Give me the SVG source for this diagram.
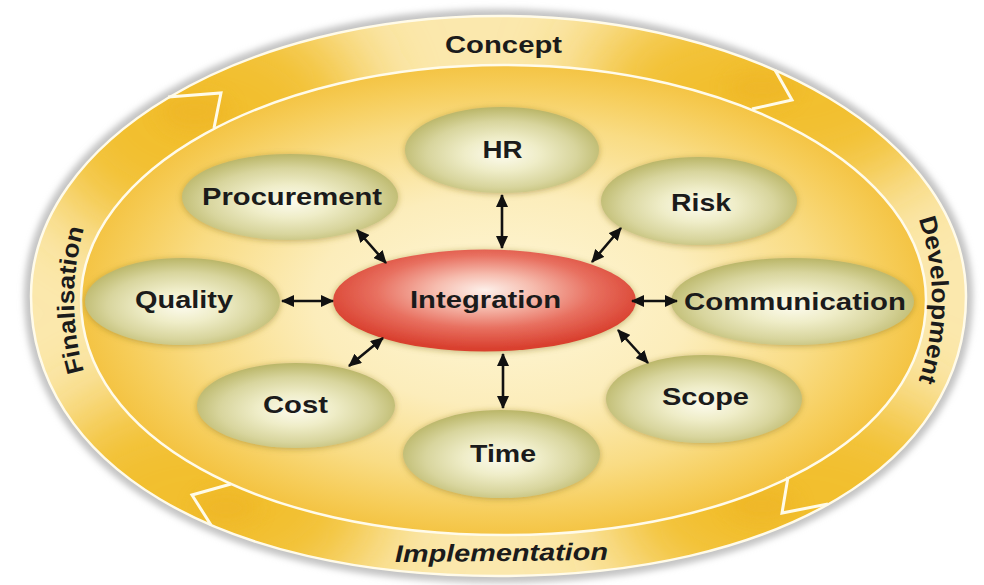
<svg xmlns="http://www.w3.org/2000/svg" width="984" height="585" viewBox="0 0 984 585">
  <defs>
    <style>
      .lbl{font-family:"Liberation Sans",Arial,Helvetica,sans-serif;font-weight:bold;font-size:24px;fill:#1b1b1b;text-anchor:middle}
      .node{fill:url(#olive);filter:url(#soft)}
      .core{fill:url(#red);filter:url(#soft)}
      .link{stroke:#111;stroke-width:2.6;fill:none;marker-start:url(#ah);marker-end:url(#ah)}
      .seam{fill:none;stroke:#fffbe8;stroke-width:3;stroke-linejoin:miter}
      .edge{fill:none;stroke:#fffbea;stroke-width:2.5}
    </style>

    <!-- outer rim of the phase ring -->
    <path id="outerShape" d="M966,296 C966,464 779,576 498.5,576 C218,576 31,464 31,296 C31,141.4 240.3,16 498.5,16 C756.7,16 966,141.4 966,296 Z"/>
    <!-- inner boundary of the phase ring -->
    <path id="innerShape" d="M926,300 C926,436.3 748.5,535 503.5,535 C258.5,535 81,436.3 81,300 C81,170.2 270.2,65 503.5,65 C736.8,65 926,170.2 926,300 Z"/>

    <clipPath id="ringClip">
      <path clip-rule="evenodd" d="M966,296 C966,464 779,576 498.5,576 C218,576 31,464 31,296 C31,141.4 240.3,16 498.5,16 C756.7,16 966,141.4 966,296 Z M926,300 C926,436.3 748.5,535 503.5,535 C258.5,535 81,436.3 81,300 C81,170.2 270.2,65 503.5,65 C736.8,65 926,170.2 926,300 Z"/>
    </clipPath>

    <!-- baselines for the side labels -->
    <path id="finPath" d="M134.3,470 A422,330 0 0 1 134.3,130"/>
    <path id="devPath" d="M869.7,130 A436,330 0 0 1 869.7,470"/>

    <radialGradient id="innerFill" cx="0.5" cy="0.5" r="0.5">
      <stop offset="0" stop-color="#fef7d8"/>
      <stop offset="0.45" stop-color="#fcedbb"/>
      <stop offset="0.75" stop-color="#f9dc84"/>
      <stop offset="0.92" stop-color="#f6cc57"/>
      <stop offset="1" stop-color="#f4c444"/>
    </radialGradient>

    <radialGradient id="olive" cx="0.5" cy="0.55" r="0.55">
      <stop offset="0" stop-color="#fcfbee"/>
      <stop offset="0.35" stop-color="#efedc8"/>
      <stop offset="0.7" stop-color="#d8d59d"/>
      <stop offset="1" stop-color="#bab668"/>
    </radialGradient>

    <radialGradient id="red" cx="0.5" cy="0.42" r="0.55" fx="0.5" fy="0.4">
      <stop offset="0" stop-color="#fdf0ea"/>
      <stop offset="0.3" stop-color="#f6bcae"/>
      <stop offset="0.65" stop-color="#e87060"/>
      <stop offset="1" stop-color="#d9402f"/>
    </radialGradient>

    <filter id="soft" x="-20%" y="-30%" width="140%" height="160%">
      <feGaussianBlur in="SourceAlpha" stdDeviation="3" result="b"/>
      <feOffset in="b" dy="1" result="o"/>
      <feFlood flood-color="#8a7420" flood-opacity="0.5"/>
      <feComposite in2="o" operator="in" result="s"/>
      <feMerge><feMergeNode in="s"/><feMergeNode in="SourceGraphic"/></feMerge>
    </filter>
    <filter id="haze" x="-5%" y="-5%" width="110%" height="110%">
      <feGaussianBlur stdDeviation="3"/>
    </filter>
    <filter id="blobBlur" x="-50%" y="-50%" width="200%" height="200%">
      <feGaussianBlur stdDeviation="40"/>
    </filter>
    <filter id="shadeBlur" x="-50%" y="-50%" width="200%" height="200%">
      <feGaussianBlur stdDeviation="9"/>
    </filter>

    <marker id="ah" viewBox="0 0 13 12" refX="12" refY="6" markerWidth="13" markerHeight="12" markerUnits="userSpaceOnUse" orient="auto-start-reverse">
      <path d="M0,0 L13,6 L0,12 z" fill="#111"/>
    </marker>
  </defs>

  <!-- soft grey halo round the ring -->
  <use href="#outerShape" fill="#c4c4c4" stroke="#c4c4c4" stroke-width="14" filter="url(#haze)"/>

  <!-- phase ring -->
  <g id="ring">
    <use href="#outerShape" fill="#fbe8ad"/>
    <g clip-path="url(#ringClip)">
      <g filter="url(#blobBlur)" fill="#f2bf2e">
        <ellipse cx="200" cy="120" rx="170" ry="130"/>
        <ellipse cx="770" cy="95" rx="190" ry="110"/>
        <ellipse cx="795" cy="500" rx="190" ry="120"/>
        <ellipse cx="205" cy="500" rx="180" ry="120"/>
      </g>
      <g filter="url(#shadeBlur)" fill="#eeb526" opacity="0.7">
        <ellipse cx="195" cy="112" rx="35" ry="20"/>
        <ellipse cx="762" cy="88" rx="35" ry="18"/>
        <ellipse cx="762" cy="506" rx="35" ry="18"/>
        <ellipse cx="226" cy="508" rx="32" ry="18"/>
      </g>
    </g>
    <use href="#innerShape" fill="url(#innerFill)"/>
    <use href="#outerShape" class="edge"/>
    <use href="#innerShape" class="edge"/>
    <!-- arrow seams between phases -->
    <polyline class="seam" points="168,97 221,93 214,128"/>
    <polyline class="seam" points="775,70 792,100 752,109"/>
    <polyline class="seam" points="788,477 782,513 828,504"/>
    <polyline class="seam" points="231,484 192,495 211,525"/>
  </g>

  <!-- phase labels -->
  <g id="phases">
    <text class="lbl" x="503.5" y="53" textLength="117" lengthAdjust="spacingAndGlyphs">Concept</text>
    <text class="lbl"><textPath href="#devPath" startOffset="50%" textLength="165" lengthAdjust="spacingAndGlyphs">Development</textPath></text>
    <text class="lbl" x="501.5" y="561" font-style="italic" textLength="213" lengthAdjust="spacingAndGlyphs" transform="rotate(-0.6 501.5 561)">Implementation</text>
    <text class="lbl"><textPath href="#finPath" startOffset="50%" textLength="145" lengthAdjust="spacingAndGlyphs">Finalisation</textPath></text>
  </g>

  <!-- knowledge areas -->
  <g id="hr">
    <ellipse class="node" cx="502" cy="150" rx="97" ry="43"/>
    <text class="lbl" x="502.5" y="158" textLength="40" lengthAdjust="spacingAndGlyphs">HR</text>
  </g>
  <g id="procurement">
    <ellipse class="node" cx="290" cy="197" rx="108" ry="43"/>
    <text class="lbl" x="292" y="205" textLength="180" lengthAdjust="spacingAndGlyphs">Procurement</text>
  </g>
  <g id="risk">
    <ellipse class="node" cx="699" cy="201" rx="98" ry="44"/>
    <text class="lbl" x="701" y="211" textLength="60" lengthAdjust="spacingAndGlyphs">Risk</text>
  </g>
  <g id="quality">
    <ellipse class="node" cx="182.5" cy="301.5" rx="97.5" ry="43.5"/>
    <text class="lbl" x="184" y="308" textLength="98" lengthAdjust="spacingAndGlyphs">Quality</text>
  </g>
  <g id="communication">
    <ellipse class="node" cx="792.5" cy="301.5" rx="121.5" ry="43.5"/>
    <text class="lbl" x="795" y="310" textLength="222" lengthAdjust="spacingAndGlyphs">Communication</text>
  </g>
  <g id="cost">
    <ellipse class="node" cx="296" cy="405.5" rx="99" ry="42.5"/>
    <text class="lbl" x="295.5" y="413" textLength="65" lengthAdjust="spacingAndGlyphs">Cost</text>
  </g>
  <g id="scope">
    <ellipse class="node" cx="704" cy="399" rx="98" ry="44"/>
    <text class="lbl" x="705.5" y="405" textLength="87" lengthAdjust="spacingAndGlyphs">Scope</text>
  </g>
  <g id="time">
    <ellipse class="node" cx="501.5" cy="454" rx="98.5" ry="44"/>
    <text class="lbl" x="503" y="462" textLength="66" lengthAdjust="spacingAndGlyphs">Time</text>
  </g>
  <g id="integration">
    <ellipse class="core" cx="484.5" cy="300.5" rx="151.5" ry="51"/>
    <text class="lbl" x="485.5" y="308" textLength="151" lengthAdjust="spacingAndGlyphs">Integration</text>
  </g>

  <!-- two-way links to the integration hub -->
  <g id="connectors">
    <line class="link" x1="502" y1="195" x2="502" y2="248"/>
    <line class="link" x1="357" y1="230" x2="386" y2="263"/>
    <line class="link" x1="621" y1="228" x2="592" y2="262"/>
    <line class="link" x1="282" y1="301" x2="333" y2="301"/>
    <line class="link" x1="632" y1="301" x2="677" y2="301"/>
    <line class="link" x1="349" y1="366" x2="383" y2="338"/>
    <line class="link" x1="618" y1="330" x2="648" y2="363"/>
    <line class="link" x1="503" y1="354" x2="503" y2="408"/>
  </g>
</svg>
